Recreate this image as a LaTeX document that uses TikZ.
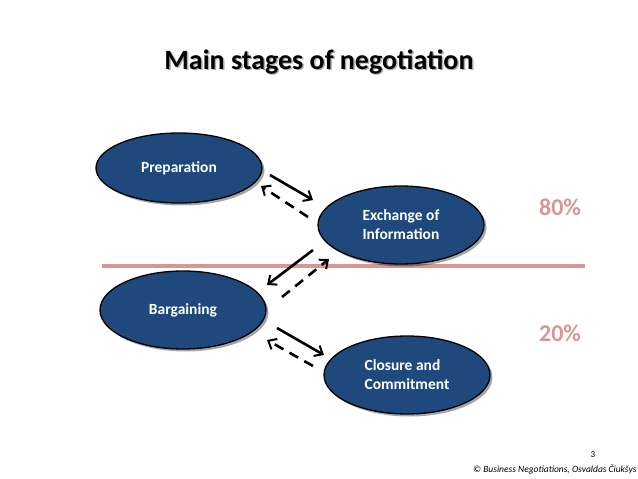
\documentclass[tikz,border=0pt]{standalone}
\usepackage{fontspec}
\setmainfont{Carlito}
\usetikzlibrary{shapes.geometric,shadows,arrows.meta}
\definecolor{stageblue}{RGB}{31,73,125}
\definecolor{pinkline}{RGB}{217,150,148}
\begin{document}
\begin{tikzpicture}[x=1pt,y=-1pt,
  stage/.style={ellipse,draw=black,line width=1.3pt,fill=stageblue,text=white,
    minimum width=166pt,minimum height=78pt,inner sep=0pt,
    font=\fontsize{15.5}{19}\selectfont\bfseries,align=left,
    drop shadow={shadow xshift=2.5pt,shadow yshift=-2.5pt,opacity=0.35,fill=black}},
  solidarrow/.style={line width=2.6pt,-{Straight Barb[length=7pt,width=12pt,line width=2pt]}},
  dasharrow/.style={solidarrow,dash pattern=on 10pt off 7pt},
  pct/.style={text=pinkline,font=\fontsize{24}{28}\selectfont\bfseries}
]
\useasboundingbox (0,0) rectangle (638,479);
% title
\node[text=black!45,opacity=0.7,font=\fontsize{28}{32}\selectfont\bfseries] (titleshadow) at (320.5,63.5) {Main stages of negotiation};
\node[font=\fontsize{28}{32}\selectfont\bfseries] (title) at (319,62) {Main stages of negotiation};
% separator line
\coordinate (lineL) at (102,266);
\coordinate (lineR) at (585,266);
\draw[pinkline,line width=3.5pt] (lineL) -- (lineR);
% stages
\node[stage,minimum height=70pt] (prep) at (179,168) {Preparation};
\node[stage] (exch) at (401,225) {Exchange of\\Information};
\node[stage] (barg) at (183,310) {Bargaining};
\node[stage] (clos) at (407,375) {Closure and\\Commitment};
% percentages
\node[pct] (p80) at (560,207) {80\%};
\node[pct] (p20) at (560,333) {20\%};
% arrows
\coordinate (a1s) at (270,175); \coordinate (a1e) at (313,200);
\coordinate (d1s) at (308,217); \coordinate (d1e) at (261,186);
\coordinate (a2s) at (313,250); \coordinate (a2e) at (267,285);
\coordinate (d2s) at (282,297); \coordinate (d2e) at (329,259);
\coordinate (a3s) at (277,328); \coordinate (a3e) at (324,355);
\coordinate (d3s) at (313,366); \coordinate (d3e) at (267,340);
\draw[solidarrow] (a1s) -- (a1e);
\draw[dasharrow] (d1s) -- (d1e);
\draw[solidarrow] (a2s) -- (a2e);
\draw[dasharrow] (d2s) -- (d2e);
\draw[solidarrow] (a3s) -- (a3e);
\draw[dasharrow] (d3s) -- (d3e);
% footer
\node[font=\fontsize{9}{10}\selectfont] (pagenum) at (593,455) {3};
\node[anchor=west,inner sep=0pt,font=\fontsize{9.5}{10}\selectfont\itshape] (credit) at (473,469) {© Business Negotiations, Osvaldas Čiukšys};
\end{tikzpicture}
\end{document}
